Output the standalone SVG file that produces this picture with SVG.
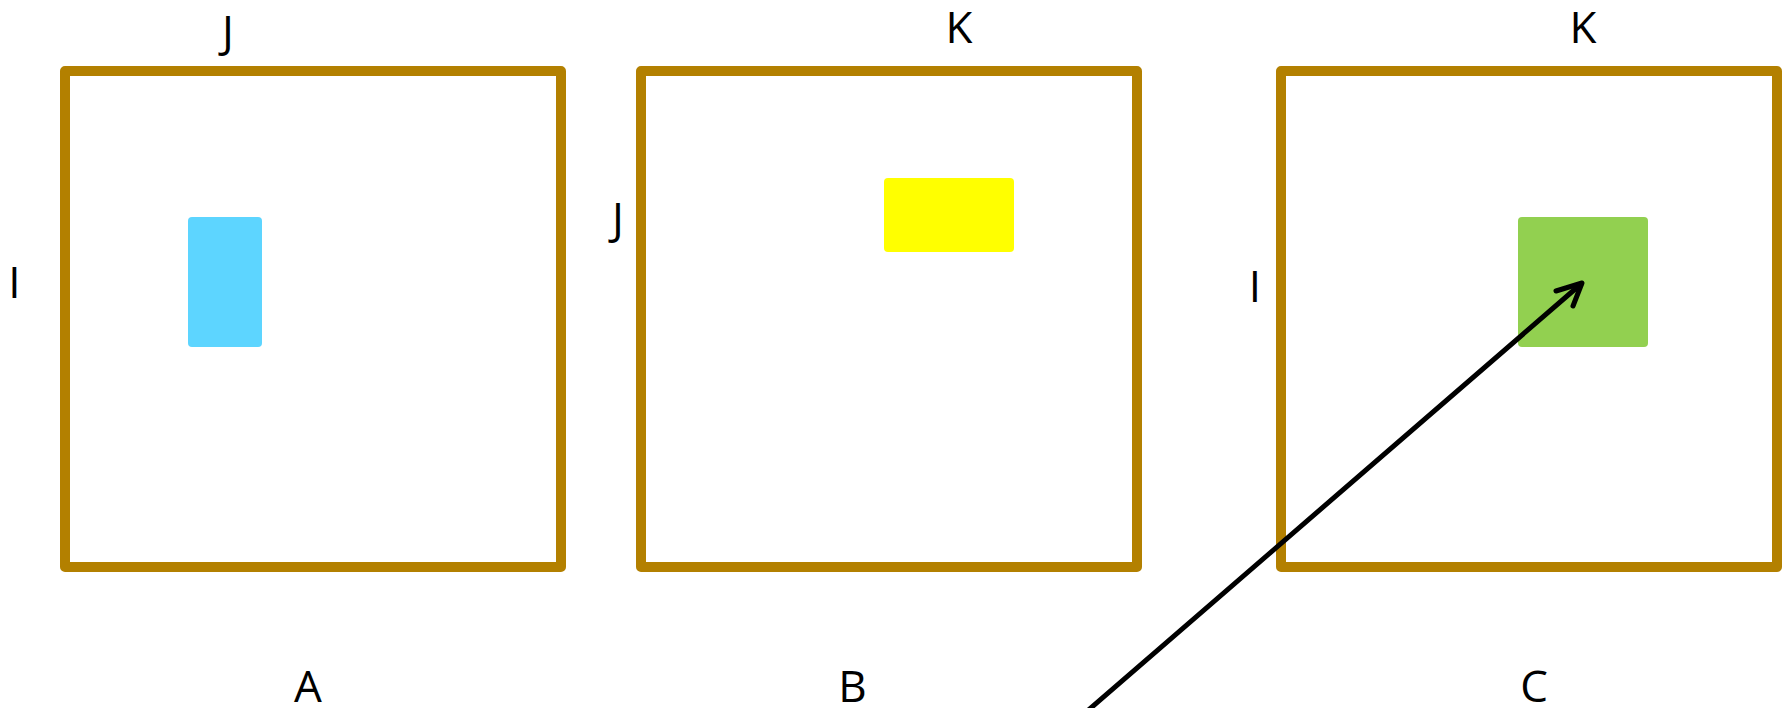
<svg xmlns="http://www.w3.org/2000/svg" width="1788" height="708" viewBox="0 0 1788 708">
<style>
.frame{fill:none;stroke:#b38000;stroke-width:10;stroke-linejoin:round}
.lbl{font-family:"Open Sans","Noto Sans",sans-serif;font-size:44px;fill:#000;text-anchor:middle}
.conn{fill:none;stroke:#000;stroke-width:5;stroke-linecap:round;stroke-linejoin:round}
</style>
<rect width="1788" height="708" fill="#fff"/>
<g id="matrixA">
<rect class="frame" x="65" y="71" width="496" height="496"/>
<rect x="188" y="217" width="74" height="130" rx="4" fill="#5dd5ff"/>
<text class="lbl" x="228" y="47">J</text>
<text class="lbl" x="14.5" y="298">I</text>
<text class="lbl" x="308" y="702">A</text>
</g>
<g id="matrixB">
<rect class="frame" x="641" y="71" width="496" height="496"/>
<rect x="884" y="178" width="130" height="74" rx="4" fill="#ffff00"/>
<text class="lbl" x="959" y="43">K</text>
<text class="lbl" x="618" y="234">J</text>
<text class="lbl" x="852.5" y="702">B</text>
</g>
<g id="matrixC">
<rect class="frame" x="1281" y="71" width="496" height="496"/>
<rect x="1518" y="217" width="130" height="130" rx="4" fill="#92d050"/>
<text class="lbl" x="1583" y="43">K</text>
<text class="lbl" x="1255" y="302">I</text>
<text class="lbl" x="1534" y="702">C</text>
</g>
<g id="connectors">
<path class="conn" d="M1085,713 L1581,284"/>
<path class="conn" d="M1556,291 L1582,283 L1573,306"/>
</g>
</svg>
